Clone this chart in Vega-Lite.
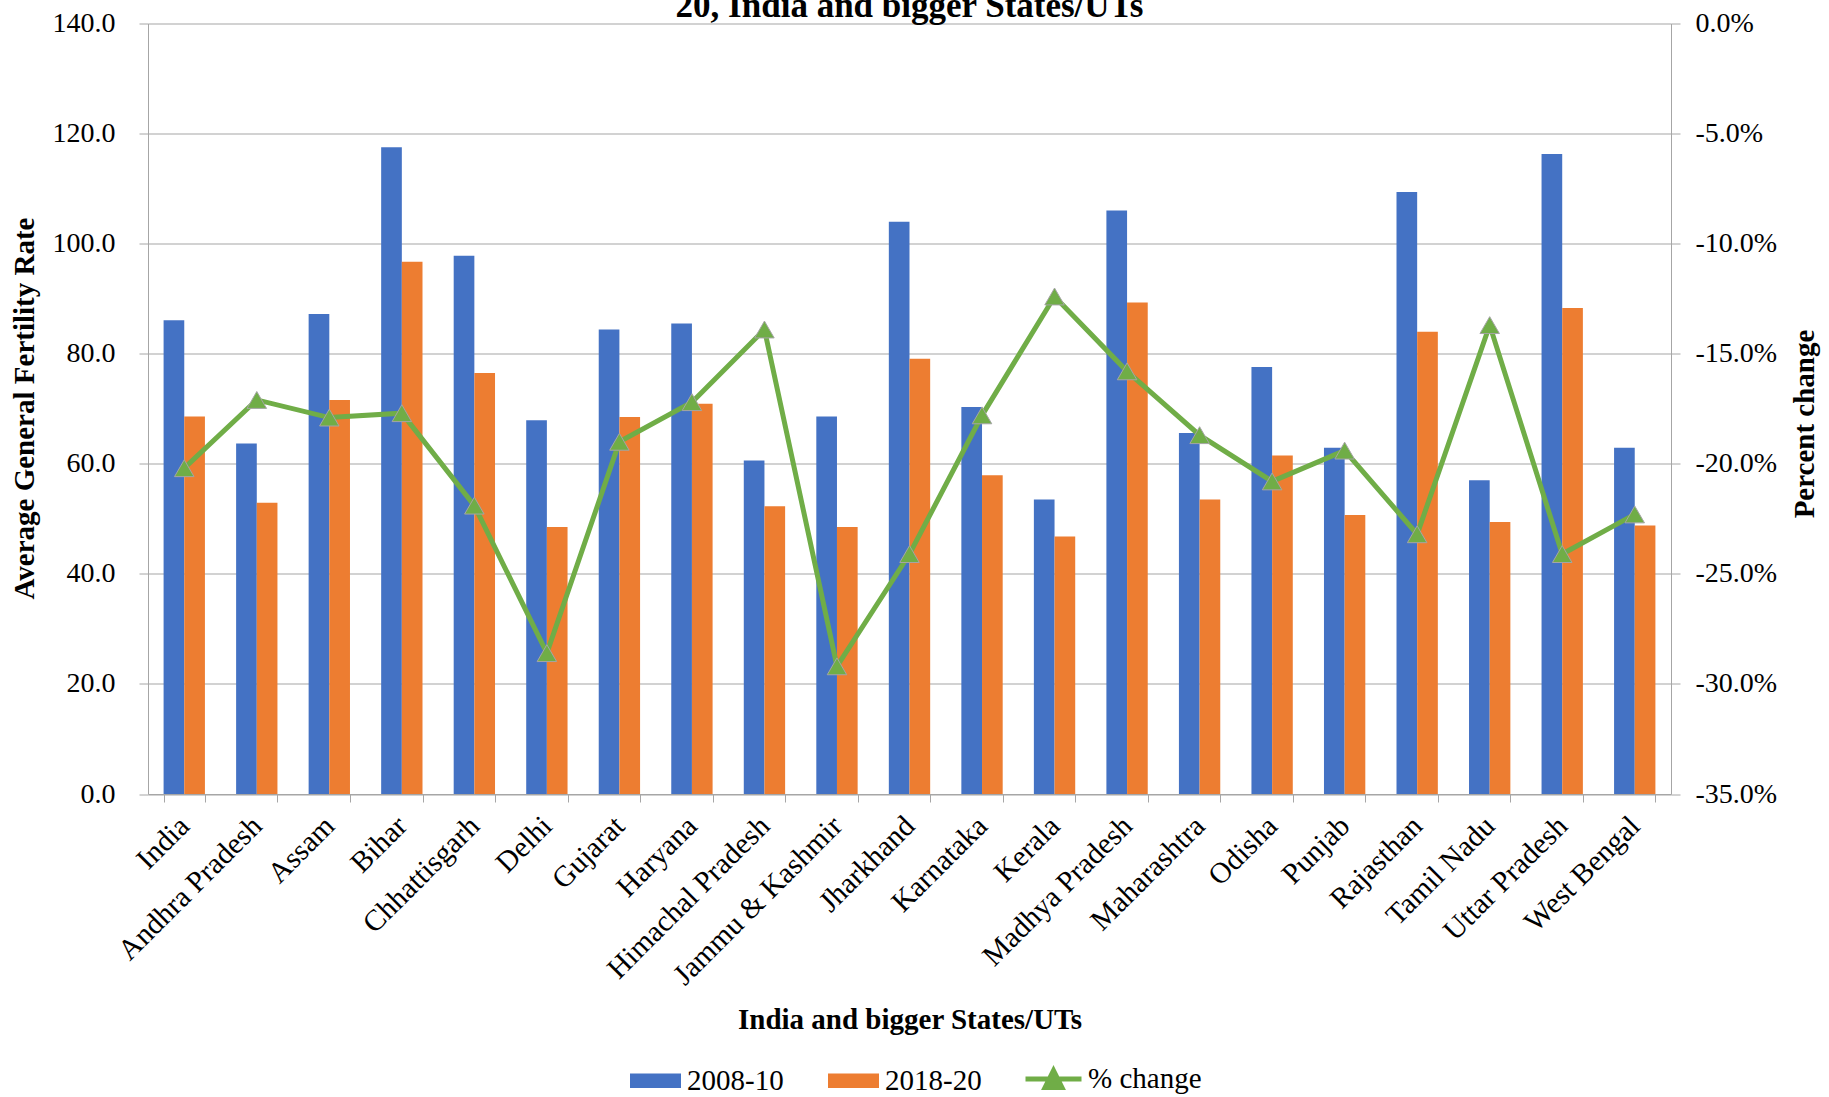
{
  "$schema": "https://vega.github.io/schema/vega-lite/v6.json",
  "width": 1523,
  "height": 770.5,
  "autosize": {"type": "none"},
  "padding": {"left": 148, "top": 23.5, "right": 158, "bottom": 302.5},
  "background": "white",
  "config": {
    "view": {"stroke": null},
    "font": "Liberation Serif",
    "axis": {"labelFont": "Liberation Serif", "titleFont": "Liberation Serif", "labelColor": "black", "titleColor": "black", "domainColor": "#a6a6a6", "tickColor": "#a6a6a6", "gridColor": "#a6a6a6"},
    "legend": {"labelFont": "Liberation Serif", "labelColor": "black"}
  },
  "title": {"text": "20, India and bigger States/UTs", "fontSize": 35, "font": "Liberation Serif", "fontWeight": "bold", "frame": "group", "anchor": "middle", "baseline": "alphabetic", "offset": 0, "dy": 42, "color": "black"},
  "data": {"values": [
    {"state": "India", "2008-10": 86.1, "2018-20": 68.6, "pct": -0.202},
    {"state": "Andhra Pradesh", "2008-10": 63.7, "2018-20": 52.9, "pct": -0.171},
    {"state": "Assam", "2008-10": 87.2, "2018-20": 71.6, "pct": -0.179},
    {"state": "Bihar", "2008-10": 117.5, "2018-20": 96.7, "pct": -0.177},
    {"state": "Chhattisgarh", "2008-10": 97.8, "2018-20": 76.5, "pct": -0.219},
    {"state": "Delhi", "2008-10": 67.9, "2018-20": 48.5, "pct": -0.286},
    {"state": "Gujarat", "2008-10": 84.4, "2018-20": 68.5, "pct": -0.19},
    {"state": "Haryana", "2008-10": 85.5, "2018-20": 70.9, "pct": -0.172},
    {"state": "Himachal Pradesh", "2008-10": 60.6, "2018-20": 52.3, "pct": -0.139},
    {"state": "Jammu & Kashmir", "2008-10": 68.6, "2018-20": 48.5, "pct": -0.292},
    {"state": "Jharkhand", "2008-10": 104.0, "2018-20": 79.1, "pct": -0.241},
    {"state": "Karnataka", "2008-10": 70.3, "2018-20": 57.9, "pct": -0.178},
    {"state": "Kerala", "2008-10": 53.5, "2018-20": 46.8, "pct": -0.124},
    {"state": "Madhya Pradesh", "2008-10": 106.0, "2018-20": 89.3, "pct": -0.158},
    {"state": "Maharashtra", "2008-10": 65.6, "2018-20": 53.5, "pct": -0.187},
    {"state": "Odisha", "2008-10": 77.6, "2018-20": 61.5, "pct": -0.208},
    {"state": "Punjab", "2008-10": 62.9, "2018-20": 50.7, "pct": -0.194},
    {"state": "Rajasthan", "2008-10": 109.4, "2018-20": 84.0, "pct": -0.232},
    {"state": "Tamil Nadu", "2008-10": 57.0, "2018-20": 49.4, "pct": -0.137},
    {"state": "Uttar Pradesh", "2008-10": 116.3, "2018-20": 88.3, "pct": -0.241},
    {"state": "West Bengal", "2008-10": 62.9, "2018-20": 48.8, "pct": -0.223}
  ]},
  "encoding": {
    "x": {
      "field": "state", "type": "nominal", "sort": null,
      "scale": {"paddingInner": 0.43, "paddingOuter": 0.215},
      "axis": {
        "title": "India and bigger States/UTs", "titleFontSize": 29, "titleFontWeight": "bold",
        "titleY": 234, "titleBaseline": "alphabetic",
        "labelAngle": -45, "labelAlign": "right", "labelBaseline": "middle",
        "labelFontSize": 29.5, "labelPadding": 19, "labelLimit": 500,
        "tickSize": 8, "tickBand": "extent", "grid": false
      }
    }
  },
  "layer": [
    {
      "transform": [{"fold": ["2008-10", "2018-20"], "as": ["series", "value"]}],
      "mark": {"type": "bar"},
      "encoding": {
        "xOffset": {"field": "series", "type": "nominal", "scale": {"paddingInner": 0, "paddingOuter": 0}},
        "y": {
          "field": "value", "type": "quantitative",
          "scale": {"domain": [0, 140], "nice": false},
          "axis": {
            "title": "Average General Fertility Rate", "titleFontSize": 29, "titleFontWeight": "bold",
            "titleX": -115, "titleY": 384.5, "titleBaseline": "alphabetic", "titleAlign": "center", "titleAngle": 270,
            "values": [0, 20, 40, 60, 80, 100, 120, 140], "format": ".1f",
            "labelFontSize": 28, "labelPadding": 24, "tickSize": 9, "grid": true, "gridWidth": 1.2
          }
        },
        "color": {
          "field": "series", "type": "nominal",
          "scale": {"domain": ["2008-10", "2018-20"], "range": ["#4472c4", "#ed7d31"]},
          "legend": {
            "orient": "none", "legendX": 482, "legendY": 1031.5, "direction": "horizontal", "title": null,
            "symbolType": "M-1,-0.285H1V0.285H-1Z", "symbolSize": 2601, "symbolStrokeWidth": 0,
            "labelFontSize": 29, "labelOffset": 6, "columnPadding": 44
          }
        }
      }
    },
    {
      "layer": [
        {
          "mark": {"type": "line", "strokeWidth": 5},
          "encoding": {
            "y": {
              "field": "pct", "type": "quantitative",
              "scale": {"domain": [-0.35, 0], "nice": false},
              "axis": {
                "orient": "right", "title": "Percent change", "titleFontSize": 29, "titleFontWeight": "bold",
                "titleX": 142, "titleY": 400, "titleBaseline": "alphabetic", "titleAlign": "center", "titleAngle": 270,
                "values": [-0.35, -0.3, -0.25, -0.2, -0.15, -0.1, -0.05, 0],
                "labelExpr": "replace(format(datum.value, '.1%'), '\u2212', '-')",
                "labelFontSize": 28, "labelPadding": 15, "tickSize": 9, "grid": false
              }
            },
            "color": {
              "datum": "% change",
              "scale": {"domain": ["% change"], "range": ["#70ad47"]},
              "legend": {
                "orient": "none", "legendX": 875, "legendY": 1025, "direction": "horizontal", "title": null,
                "symbolType": "M-1,0H1M0,-0.3L0.3,0.3H-0.3Z", "symbolSize": 3136, "symbolStrokeWidth": 5,
                "symbolFillColor": "#70ad47", "symbolStrokeColor": "#70ad47",
                "labelFontSize": 29, "labelOffset": 4
              }
            }
          }
        },
        {
          "mark": {"type": "point", "shape": "triangle-up", "size": 380, "filled": true, "fill": "#70ad47", "stroke": "#a5a5a5", "strokeWidth": 1, "opacity": 1},
          "encoding": {
            "y": {"field": "pct", "type": "quantitative"}
          }
        }
      ]
    }
  ],
  "resolve": {"scale": {"y": "independent", "color": "independent"}, "legend": {"color": "independent"}}
}
